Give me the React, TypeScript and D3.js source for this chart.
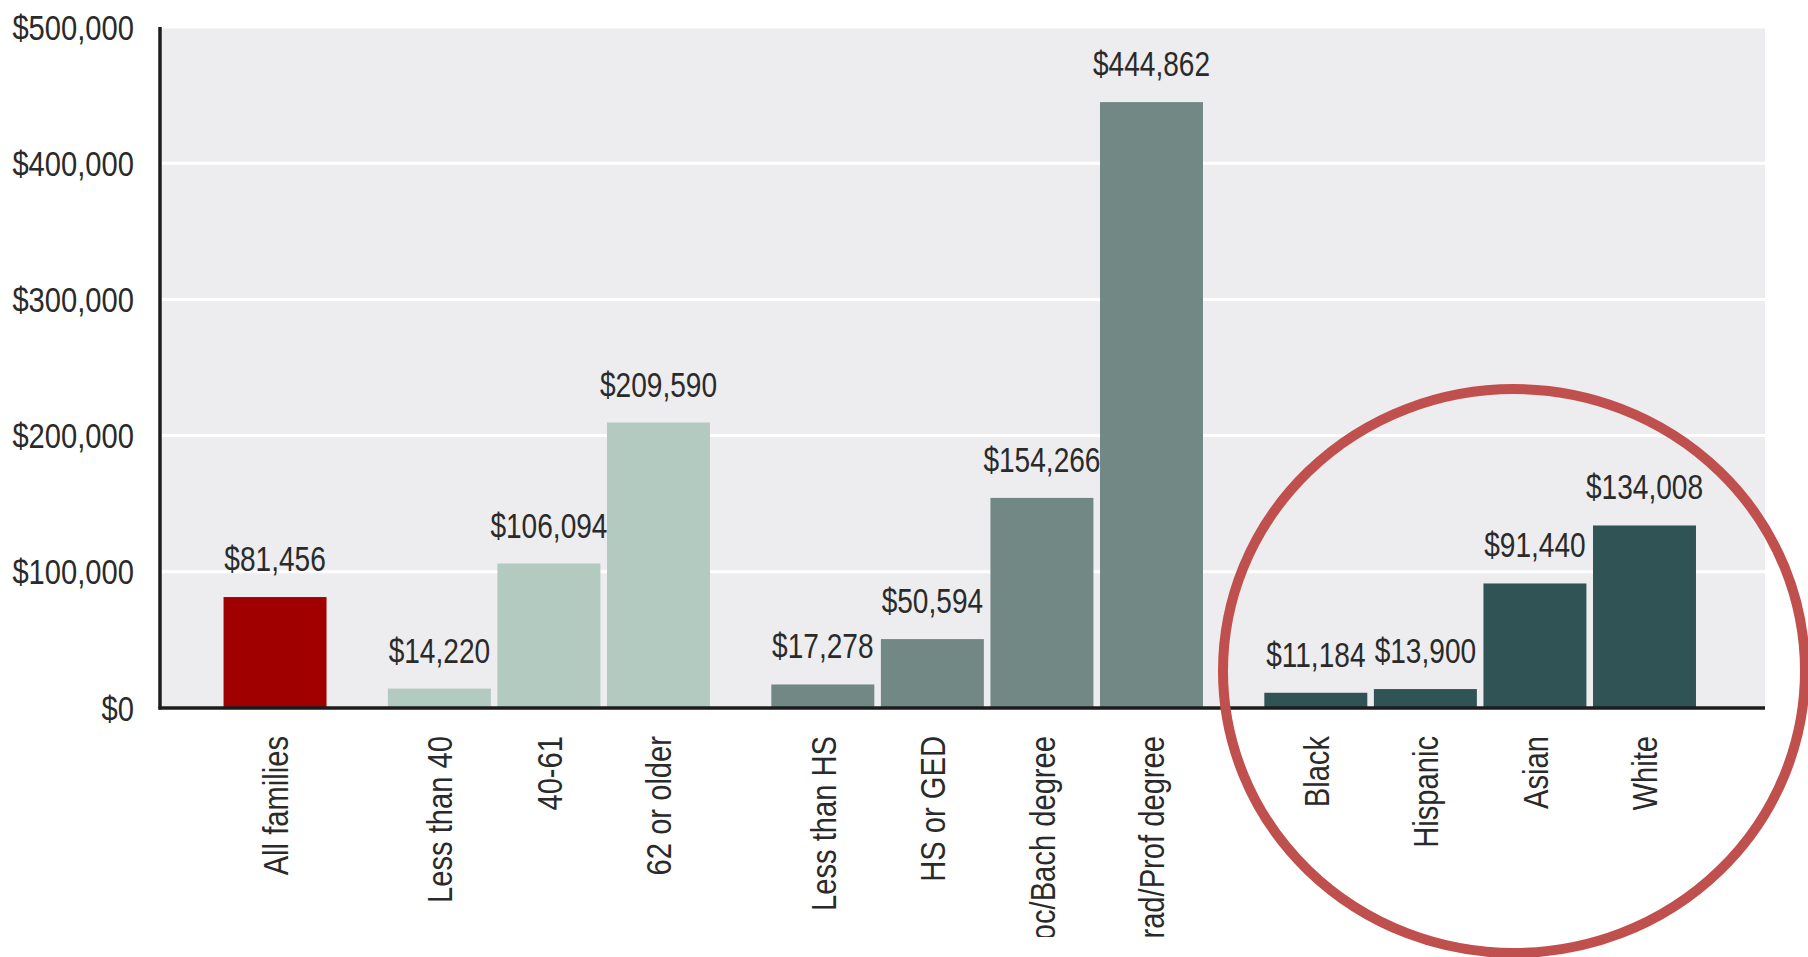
import React from "react";
import * as d3 from "d3";

const categories = [
  "All families",
  "Less than 40",
  "40-61",
  "62 or older",
  "Less than HS",
  "HS or GED",
  "Assoc/Bach degree",
  "Grad/Prof degree",
  "Black",
  "Hispanic",
  "Asian",
  "White",
];
const values = [81456, 14220, 106094, 209590, 17278, 50594, 154266, 444862, 11184, 13900, 91440, 134008];
const groupOf = [0, 1, 1, 1, 2, 2, 2, 2, 3, 3, 3, 3];
const groupColors = ["#a10000", "#b2cac0", "#718885", "#305356"];
const yTicks = [0, 100000, 200000, 300000, 400000, 500000];

const W = 1808;
const H = 957;
const left = 160;
const right = 1765;
const top = 27;
const bottom = 708;
const FONT = "'Liberation Sans', Arial, sans-serif";
const SX = 0.81;
const SXV = 0.78;
const FS = 36;

export default function App() {
  const positions = categories.map((_, i) => i + 0.5 * groupOf[i]);
  const x = d3.scaleLinear().domain([-1.05, 13.6]).range([left, right]);
  const y = d3.scaleLinear().domain([0, 500000]).range([bottom, top]);
  const step = x(1) - x(0);
  const bw = step * 0.94;
  const fmt = d3.format("$,");

  return (
    <svg
      width={W}
      height={H}
      style={{ position: "absolute", left: 0, top: 0, background: "#fff" }}
      fontFamily={FONT}
    >
      <defs>
        <clipPath id="labelClip">
          <rect x={0} y={0} width={W} height={937} />
        </clipPath>
      </defs>
      <rect x={left} y={top} width={right - left} height={bottom - top} fill="#ededef" />
      {yTicks.slice(1).map((t) => (
        <line key={t} x1={left} x2={right} y1={y(t)} y2={y(t)} stroke="#ffffff" strokeWidth={3} />
      ))}
      {yTicks.map((t) => (
        <text
          key={"l" + t}
          transform={`translate(134,${y(t)}) scale(${SX},1)`}
          textAnchor="end"
          dominantBaseline="central"
          fontSize={FS}
          fill="#2a2a2a"
        >
          {fmt(t)}
        </text>
      ))}
      {categories.map((c, i) => {
        const cx = x(positions[i]);
        return (
          <g key={c}>
            <rect
              x={cx - bw / 2}
              y={y(values[i])}
              width={bw}
              height={bottom - y(values[i])}
              fill={groupColors[groupOf[i]]}
            />
            <text
              transform={`translate(${cx},${y(values[i]) - 26}) scale(${SXV},1)`}
              textAnchor="middle"
              fontSize={FS}
              fill="#2a2a2a"
            >
              {fmt(values[i])}
            </text>
            <g clipPath="url(#labelClip)">
              <text
                transform={`translate(${cx + 13},736) rotate(-90) scale(${SX},1)`}
                textAnchor="end"
                fontSize={FS}
                fill="#2a2a2a"
              >
                {c}
              </text>
            </g>
          </g>
        );
      })}
      <line x1={left} x2={left} y1={top} y2={bottom + 1.5} stroke="#1c1c1c" strokeWidth={3.5} />
      <line x1={left - 1.5} x2={right} y1={bottom} y2={bottom} stroke="#1c1c1c" strokeWidth={3.5} />
      <ellipse cx={1514} cy={671} rx={291} ry={282} fill="none" stroke="#c0504d" strokeWidth={10} />
    </svg>
  );
}
